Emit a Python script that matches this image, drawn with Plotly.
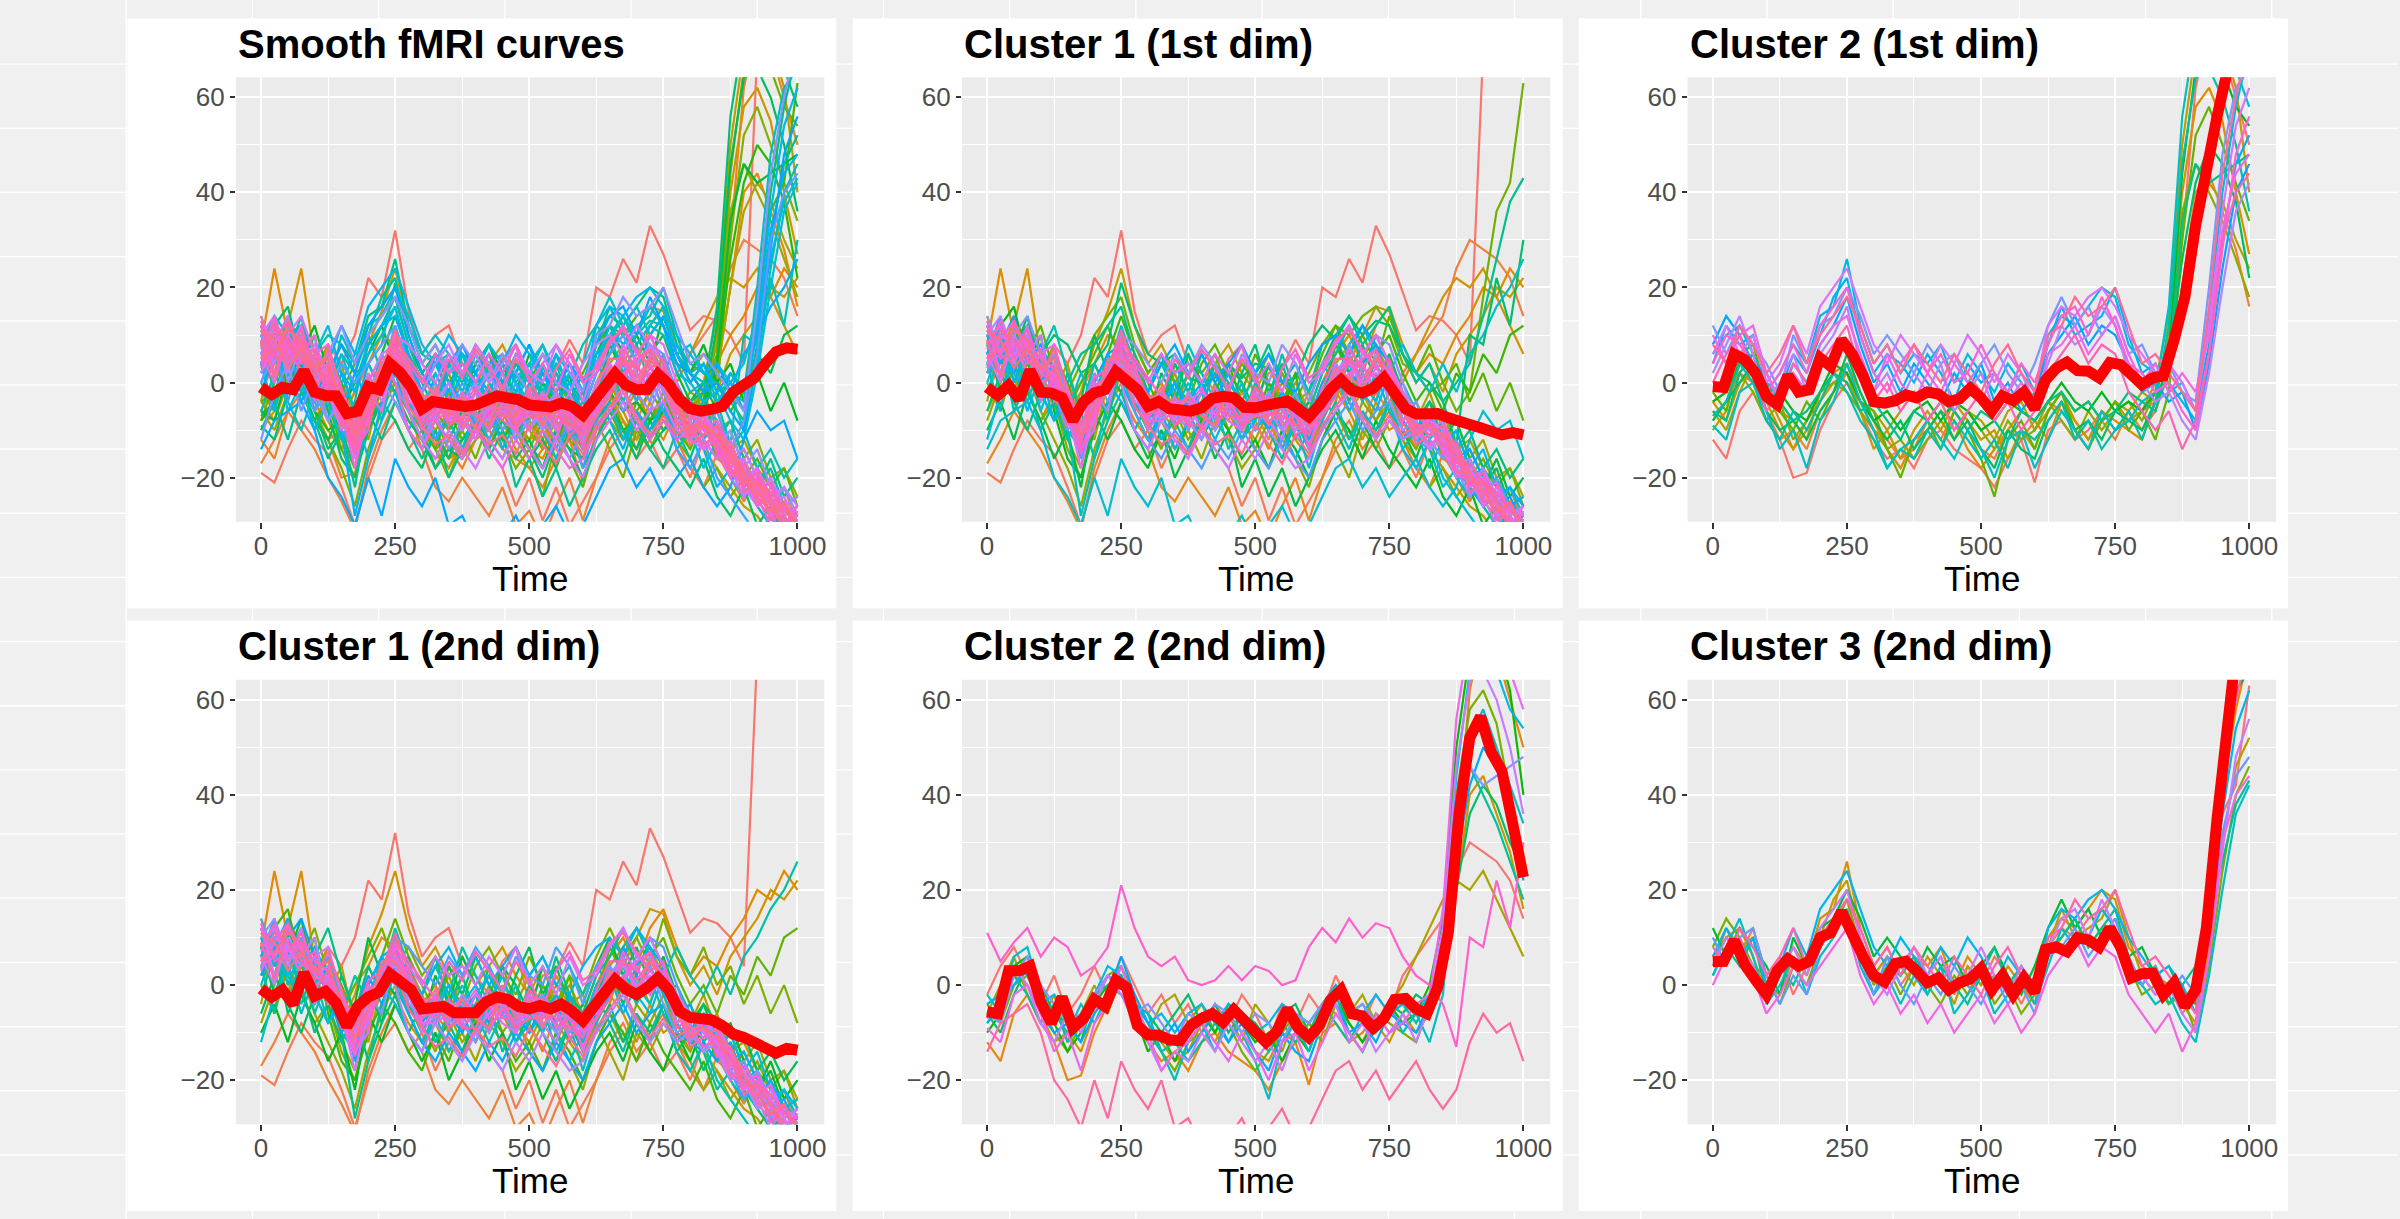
import math
import plotly.graph_objects as go

# ---------------- data ----------------
time = list(range(0, 1001, 25))        # sampling grid of the individual curves
time_mean = list(range(0, 1001, 20))   # sampling grid of the red mean curves

x_ticks = [0, 250, 500, 750, 1000]
x_minor = [125, 375, 625, 875]
y_ticks = [-20, 0, 20, 40, 60]
y_tick_text = ["\u221220", "0", "20", "40", "60"]
y_minor = [-10, 10, 30, 50]

panel_titles = ["Smooth fMRI curves", "Cluster 1 (1st dim)", "Cluster 2 (1st dim)",
                "Cluster 1 (2nd dim)", "Cluster 2 (2nd dim)", "Cluster 3 (2nd dim)"]

# curves: 1st dim cluster 1 / 2nd dim cluster 1 (bulk)
bulk_ids = [1, 2, 4, 6, 8, 11, 13, 15, 17, 19, 21, 24, 26, 28, 31, 33, 36, 39, 41, 43, 45, 48, 50, 52]
bulk_curves = [
    [5, 8, 3, 6, 2, 8, 4, 10, 22, 18, 32, 15, 6, 10, 12, 4, 2, -2, 5, 8, -4, 2, 3, 9, 4, 20, 18, 26, 21, 33, 27, 19, 11, 14, 13, 10, 4, 70, 90, 95, 100],
    [-19, -21, -14, -8, -12, -15, -22, -30, -20, -12, -8, -14, -10, -18, -12, -15, -10, -14, -18, -26, -20, -29, -22, -30, -25, -20, -14, -10, -16, -12, -18, -14, -20, -12, -16, -18, -22, -25, -28, -30, -32],
    [-17, -12, -6, -10, -14, -20, -25, -31, -18, -10, -4, -10, -14, -22, -25, -20, -24, -28, -22, -30, -27, -33, -26, -20, -29, -20, -12, -8, -14, -10, -6, -12, -18, -22, -15, -20, -25, -20, -28, -22, -30],
    [8, 24, 10, 6, 2, -4, 0, -6, 4, 10, 8, 2, -4, 0, -6, 2, 7, 3, -2, 5, 0, -6, 2, -3, -8, 0, 6, 10, 4, 12, 16, 8, 2, 6, 4, 10, 14, 20, 18, 24, 20],
    [6, 10, 12, 24, 5, 0, -5, -12, -4, 0, -2, -8, -12, -6, -10, -4, -8, -2, -6, -12, -8, -14, -6, -10, -4, -8, -2, -6, -12, -4, -10, -8, -14, -6, -12, -18, -14, -20, -24, -28, -26],
    [2, 6, -2, 4, 0, -4, -8, -2, 8, 15, 24, 12, 4, 8, 2, 6, 0, 4, 8, 2, -2, 4, -4, 0, -6, 2, 8, 4, 10, 16, 15, 6, 0, 4, -2, 6, 10, 14, 20, 18, 22],
    [12, 4, 14, 8, -4, 2, -12, -18, -2, 4, 6, 0, -6, -2, -10, -4, -8, 0, -4, -10, -6, -2, -8, -12, -16, -6, 4, 8, 2, -4, 6, -6, -10, -14, -18, -22, -26, -28, -32, -30, -34],
    [-4, 10, 2, 12, 6, -2, 4, -8, -12, 0, 10, 4, -2, -8, -2, -10, -4, 2, -2, -8, -12, -6, 0, -4, -10, -2, 2, -4, 4, 8, 2, -8, -4, -10, -6, -14, -12, -18, -22, -26, -24],
    [14, 6, -2, 10, 2, 8, -4, 0, 4, -2, 8, -4, -10, -4, 2, -6, -2, -8, 0, -4, 2, -8, -12, -4, -2, -10, -4, 6, 0, 4, -2, -4, -8, -2, -10, -8, -16, -12, -20, -18, -24],
    [-8, 0, 8, 2, -6, -12, -18, -26, -14, -6, 0, -6, -12, -8, -14, -10, -16, -8, -12, -18, -14, -8, -12, -6, -14, -8, -14, -20, -10, -14, -8, -12, -16, -22, -18, -24, -20, -26, -30, -28, -32],
    [0, -6, 4, -2, -8, -4, -14, -20, -8, 2, 6, -2, -8, -14, -6, -12, -8, -2, -10, -6, -14, -18, -10, -16, -22, -12, -6, -12, -4, -8, -2, -10, -14, -8, -16, -12, -20, -16, -22, -18, -26],
    [4, 10, 0, 6, 12, 2, -6, 0, 6, 12, 4, 8, 2, 6, 0, -4, 4, 8, 2, -2, 6, 0, -4, 2, -2, 6, 12, 6, 10, 4, 14, 6, 2, 8, 0, 4, -4, 2, -6, 0, -8],
    [10, 2, 12, 4, -2, 6, 0, -10, -4, 6, 14, 6, 0, -6, 4, -2, -8, -2, 4, -4, -8, 0, -6, 2, -12, -4, 8, 2, -4, 6, 10, 2, -4, 0, -6, 2, -2, 6, 2, 10, 12],
    [6, 12, 16, 4, 10, -6, -16, -20, -10, -4, -8, -14, -18, -10, -16, -8, -12, -6, -10, -16, -12, -18, -10, -14, -20, -12, -6, -10, -16, -8, -14, -18, -22, -16, -24, -28, -22, -30, -26, -32, -30],
    [-10, -4, -12, -2, -8, -16, -10, -22, -6, -12, -4, -10, -16, -10, -20, -14, -8, -16, -10, -22, -16, -24, -18, -26, -20, -14, -10, -16, -8, -14, -18, -10, -16, -8, -14, -10, -18, -22, -16, -24, -20],
    [8, -2, 6, 14, 0, 4, -8, -4, 10, 2, -2, 6, -8, 2, -4, 6, 0, -6, 4, 0, -6, 4, -2, -8, -4, 4, 10, 2, 8, 0, 6, -2, -8, -4, -12, -8, -16, -22, -18, -26, -30],
    [-6, 2, -4, -10, -2, -8, 2, -6, 0, -8, 4, -4, -10, -4, 4, -2, 6, 0, -6, 2, 8, -2, 4, -4, -10, -2, 4, -4, 2, 10, 4, -6, -10, -4, -8, -14, -10, -18, -14, -20, -16],
    [2, 8, -6, 0, -10, -4, -12, -6, -16, -8, -2, -10, -4, -12, -8, -14, -6, -10, -4, -12, -6, -10, -16, -8, -14, -10, -4, -12, -6, -12, -4, -14, -10, -18, -12, -20, -16, -24, -20, -28, -26],
    [12, 4, 8, -2, 6, 12, 2, -6, 4, -2, 8, 2, -2, 6, -4, 2, -6, 4, -2, -8, 0, -4, 6, -2, -6, 2, 6, 12, 4, 8, -2, 0, -6, -12, -8, -16, -20, -26, -30, -28, -34],
    [4, -6, 10, 2, -4, 0, -10, -28, -16, -4, 2, -4, -8, -2, -8, -2, -10, -4, -14, -8, -2, -10, -4, -12, -6, -2, -8, -14, -6, -10, -4, -12, -8, -14, -22, -18, -24, -20, -26, -30, -28],
    [-2, 6, 2, -4, 4, -2, -6, 2, -4, 6, 2, -6, -2, 4, -2, 8, 2, -4, 2, 8, 2, 6, 0, 4, -2, 4, 0, 8, 12, 6, 2, 8, 2, -2, 4, -2, 6, 10, 16, 20, 26],
    [0, 8, -4, 6, -6, 2, -10, -14, -6, 2, 12, 4, -4, -12, -6, 0, -6, -12, -6, 0, -10, -4, -14, -8, -18, -8, -2, 4, -4, 2, -6, -14, -18, -12, -20, -24, -28, -32, -28, -34, -30],
    [-12, -2, 4, -6, 2, -8, -2, -12, 0, 6, 0, -6, -12, -6, -14, -8, -2, -10, -4, -12, -8, -2, -10, -16, -10, -4, 2, -6, 0, -4, 4, -8, -12, -6, -14, -20, -24, -18, -26, -22, -28],
    [6, 14, 0, 8, -2, -8, -4, -16, -6, 0, -4, -10, -14, -6, 0, -6, -12, -4, 2, -6, -10, -6, -2, -8, -12, -6, -2, 6, -2, -6, 2, -4, -10, -6, -14, -10, -18, -14, -22, -26, -24],
]

# more bulk curves (last ids -> drawn on top, purple / pink hues)
bulk_late_ids = [53, 54, 55, 56, 57, 58, 59, 60, 61, 62, 63, 64, 65, 66, 67, 68, 69, 70, 71, 72]
bulk_late_curves = [
    [10, 4, 12, 6, 0, 4, -6, -10, -2, 4, 8, 2, -6, -2, -8, -4, 0, -6, -2, -8, -4, -10, -2, -6, -12, -4, 2, 6, 0, 4, -2, -8, -12, -8, -14, -18, -22, -26, -24, -30, -28],
    [6, 12, 2, 10, 4, -2, -8, -14, -4, 2, 6, -2, -8, -4, 0, -6, -2, 2, -4, -8, -2, -6, -10, -4, -8, 0, 4, -2, 4, 8, 0, -6, -10, -6, -12, -16, -20, -18, -24, -22, -26],
    [12, 8, 14, 4, 8, 2, -4, -12, 0, 6, 8, 2, -2, 4, 8, 2, 6, 0, 4, 8, 2, 6, 0, -2, 4, 8, 10, 6, 12, 8, 4, -2, -6, -10, -10, -16, -14, -20, -26, -24, -30],
    [2, 8, 6, 12, -2, 4, -2, -16, -8, 0, 4, -6, -12, -16, -10, -14, -18, -12, -16, -10, -14, -18, -12, -16, -20, -12, -8, -4, -10, -6, -4, -10, -12, -14, -10, -14, -18, -24, -20, -26, -32],
    [8, 2, 10, 14, 6, -2, -10, -6, 2, -4, 4, -2, -8, -2, -6, -10, -4, -8, -2, -6, -10, -4, -8, -2, -10, -6, -2, 8, 2, -2, 4, -6, -4, -12, -16, -12, -20, -22, -28, -32, -30],
    [14, 6, 4, 10, 2, 6, -4, -8, -6, 2, 10, 8, 4, 0, 6, 2, 8, 4, -2, 6, 2, 0, 8, 4, -4, 4, 8, 12, 6, 10, 8, 0, -8, -6, -12, -18, -24, -20, -26, -30, -34],
    [4, 10, 8, 2, 6, 0, -6, -12, -2, -6, 6, 2, -4, -8, -4, -8, -12, -4, -6, -10, -6, -2, -6, -10, -8, -4, 4, 0, 6, 4, -4, -10, -8, -14, -10, -18, -16, -22, -28, -26, -30],
    [10, 14, 6, 8, 0, 2, -8, -14, -8, 0, 6, -4, -6, -2, -8, -2, -6, -10, -4, -8, -2, -6, -10, -6, -10, -2, 2, 6, -2, 6, 2, -4, -12, -8, -10, -14, -22, -18, -24, -28, -26],
    [6, 0, 10, 6, 10, -4, -2, -10, -4, 4, 0, -10, -14, -8, -12, -16, -10, -14, -18, -12, -16, -10, -14, -18, -16, -10, -6, -2, -8, -12, -8, -12, -10, -14, -12, -18, -20, -26, -22, -28, -32],
    [8, 12, 4, 12, 2, 4, -6, -18, -6, 2, 4, -2, -10, -6, -4, -4, -10, -6, -2, -6, -4, -8, -12, -4, -6, -6, 2, 4, 0, 2, 0, -8, -6, -10, -14, -20, -18, -24, -30, -26, -28],
    [12, 2, 8, 4, 6, 8, -2, -10, 0, -2, 8, 4, 0, 6, 2, 4, 0, 6, 2, 8, 0, 4, -2, 6, 0, 2, 8, 12, 6, 10, 4, -2, -6, -10, -8, -14, -18, -22, -26, -30, -26],
    [4, 6, 12, 8, -4, 2, -4, -14, -10, 4, 2, 4, -8, -8, -6, -8, -2, -4, -8, -10, -2, -6, -8, -4, -14, -4, -2, 2, 4, -2, 2, -6, -10, -8, -12, -16, -22, -20, -24, -28, -34],
    [11, 6, 9, 2, 4, -1, -8, -12, -5, 3, 7, -1, -7, -3, -9, -5, -1, -7, -3, -9, -5, -9, -3, -7, -11, -5, 1, 5, -1, 3, 0, -6, -11, -9, -13, -19, -21, -24, -27, -29, -31],
    [3, 9, 13, 7, 2, 0, -3, -11, -7, 1, 5, 3, -3, -7, -3, -9, -5, -1, -5, -9, -3, -7, -5, -11, -9, -3, 3, 1, 5, 7, 1, -5, -9, -11, -9, -15, -19, -23, -21, -27, -29],
    [7, 13, 5, 9, 5, 3, -7, -15, -5, -1, 9, 1, -9, -5, -5, -3, -7, -9, -5, -5, -7, -3, -9, -7, -13, -7, -1, 7, 3, 1, 3, -3, -11, -7, -15, -13, -21, -19, -25, -31, -27],
    [13, 5, 7, 11, 3, 1, -9, -7, 1, 3, 9, 5, 1, -3, 5, 1, 7, 3, -1, 5, 1, -5, 3, 7, 1, 3, 9, 11, 7, 3, 5, -5, -9, -13, -11, -17, -17, -21, -29, -25, -33],
    [5, 11, 9, 5, 7, -3, -5, -13, -1, 1, 7, 1, -7, -5, -5, -9, -9, -3, -7, -7, -1, -5, -7, -9, -11, -1, 5, 5, 1, 5, 1, -9, -7, -9, -13, -15, -23, -21, -23, -27, -29],
    [9, 1, 13, 5, 1, 7, -1, -9, -3, 3, 11, 3, -3, -3, -9, -7, -5, -5, -3, -9, -7, -7, -5, -5, -9, -7, -3, 5, 3, 7, -1, -5, -13, -11, -9, -19, -19, -25, -25, -31, -29],
    [5, 7, 11, 9, -1, 3, -3, -11, -9, 1, 3, -5, -9, -13, -11, -15, -9, -13, -11, -15, -9, -13, -17, -11, -15, -9, -5, -1, -7, -11, -7, -11, -9, -9, -11, -15, -21, -21, -25, -29, -33],
    [11, 9, 3, 7, 3, 5, -5, -11, -5, 5, 5, -1, -5, -1, -7, -3, -7, -9, -1, -7, -3, -9, -3, -9, -7, -5, 3, 1, -1, 5, 1, -3, -11, -9, -11, -13, -19, -23, -27, -25, -31],
]

# curves: 1st dim cluster 1 / 2nd dim cluster 2
x_ids = [34, 46, 3, 9]
x_curves = [
    [11, 5, 9, 12, 6, 10, 8, 2, 4, 8, 21, 12, 6, 4, 6, 1, 0, 1, 4, 1, 4, 3, 0, 1, 8, 12, 9, 14, 10, 13, 12, 6, 2, 0, -4, -13, 10, 8, 22, 12, 30],
    [-14, -8, -6, -4, -10, -20, -24, -30, -20, -28, -16, -22, -26, -20, -30, -28, -34, -30, -32, -28, -34, -30, -26, -32, -30, -24, -18, -16, -22, -18, -24, -20, -16, -22, -26, -22, -12, -6, -10, -8, -16],
    [-2, 4, 8, 2, -4, 2, -6, -2, 4, -2, 6, 0, -6, -2, -8, -4, -10, -4, -8, -2, -6, -12, -4, -8, -2, -6, 2, -4, -8, -2, -6, 2, 6, 10, 14, 24, 30, 28, 26, 22, 14],
    [-6, 0, 6, -2, -8, -2, -12, -6, 0, -6, 2, -4, -10, -4, -2, -8, -4, -10, -6, -12, -4, -8, -14, -6, -10, -4, 0, -6, -2, -8, -4, 0, 6, 12, 18, 22, 20, 24, 18, 12, 6],
]

# curves: 1st dim cluster 1 / 2nd dim cluster 3
y_ids = [22, 38]
y_curves = [
    [4, 10, 6, 12, 2, 6, -2, 4, 10, 14, 18, 8, 2, 6, 0, 4, 2, 6, -2, 4, 0, 6, 2, -4, 2, 8, 12, 10, 14, 16, 12, 4, 2, -2, 0, -6, -2, 18, 36, 42, 63],
    [2, 8, 4, 10, -2, 4, 0, 6, 8, 12, 16, 6, -2, 4, 2, 6, -2, 4, 0, -4, 2, 8, 0, 4, -2, 8, 10, 14, 8, 12, 16, 6, 0, 4, -4, 0, 4, 14, 26, 38, 43],
]

# curves: 1st dim cluster 2 / 2nd dim cluster 2 (early risers)
low_ids = [5, 7, 10, 12, 14, 16, 18, 20, 23, 25, 27, 29]
low_curves = [
    [-12, -16, -6, -2, -8, -12, -20, -19, -10, -4, 0, -6, -12, -16, -14, -18, -12, -10, -14, -16, -18, -22, -16, -12, -21, -10, -8, -12, -10, -6, -10, -8, -6, -4, 4, 30, 62, 75, 70, 60, 50],
    [-8, -4, 2, 0, -6, -12, -10, -14, -6, -2, 2, -4, -10, -12, -16, -14, -8, -12, -6, -10, -14, -16, -10, -12, -8, -4, -6, -10, -14, -8, -12, -6, -10, -6, 2, 20, 40, 44, 36, 28, 16],
    [-4, -8, 0, 2, -4, -10, -14, -8, -4, 2, 4, -2, -8, -14, -18, -12, -10, -6, -8, -14, -18, -14, -10, -6, -8, -12, -4, -8, -12, -6, -8, -10, -12, -4, 10, 40, 58, 62, 55, 40, 27],
    [-10, -6, 4, 6, -2, -8, -14, -10, -4, 0, 2, -6, -14, -10, -16, -10, -6, -10, -4, -8, -12, -10, -16, -10, -14, -6, -2, -8, -12, -8, -4, -8, -6, 0, 14, 50, 70, 78, 72, 62, 40],
    [-6, -10, -2, 4, 0, -6, -8, -12, -2, 2, 0, -4, -6, -10, -6, -2, -8, -4, -10, -6, -8, -12, -6, -4, -10, -6, -2, -6, -4, -8, -4, -6, -2, -4, 2, 20, 36, 42, 38, 30, 24],
    [-4, -2, 2, -2, -8, -4, -12, -8, -2, 0, -2, -6, -10, -14, -12, -16, -12, -8, -12, -6, -10, -14, -8, -12, -10, -4, -8, -12, -6, -10, -6, -4, -8, -2, 8, 36, 46, 40, 34, 26, 18],
    [-2, -6, 6, 8, -2, -6, -10, -4, -8, -2, 4, -4, -6, -14, -20, -12, -8, -14, -6, -10, -16, -24, -12, -8, -14, -6, -2, -10, -14, -8, -4, -10, -6, -12, -2, 30, 52, 58, 50, 42, 34],
    [-4, -2, 4, 2, -4, -2, -6, -8, -2, 4, 2, -4, -8, -6, -10, -6, -4, -8, -4, -6, -10, -8, -4, -6, -8, -4, 0, -4, -6, -2, -6, -4, -6, -2, 6, 44, 66, 72, 66, 58, 54],
    [-8, -4, 0, 4, -6, -10, -8, -12, -6, -2, 6, -2, -8, -12, -8, -14, -10, -6, -12, -8, -14, -18, -10, -14, -16, -8, -4, -10, -8, -12, -6, -8, -10, -4, 4, 26, 42, 50, 46, 38, 22],
    [-6, -8, 2, 6, 0, -4, -8, -6, -2, 2, 0, -6, -4, -8, -12, -6, -8, -4, -6, -10, -6, -8, -12, -6, -8, -4, -2, -6, -4, -8, -6, -2, -4, -6, 4, 34, 46, 42, 44, 46, 48],
    [-7, -4, 4, 0, -8, -12, -6, -10, -4, 2, -2, -8, -12, -18, -14, -16, -10, -14, -8, -12, -16, -12, -18, -10, -12, -8, -4, -12, -8, -14, -10, -6, -12, -4, 12, 46, 64, 66, 60, 50, 36],
    [-9, -12, -2, 0, -6, -14, -10, -18, -8, -4, 4, -4, -10, -18, -14, -12, -8, -12, -16, -10, -14, -20, -12, -10, -18, -12, -6, -10, -14, -6, -10, -8, -4, -2, 16, 56, 74, 80, 76, 66, 58],
]

# curves: 1st dim cluster 2 / 2nd dim cluster 3 (late risers)
high_ids = [30, 32, 35, 37, 40, 42, 44, 47, 49, 51]
high_curves = [
    [6, 10, 12, 6, -2, 2, 8, 4, 14, 16, 26, 12, 4, 8, 2, 6, 4, 8, 0, 6, 2, -2, 4, 0, -4, 10, 14, 12, 16, 20, 18, 8, 4, 2, 0, -4, -8, 14, 40, 58, 70],
    [4, 12, 8, 10, 0, -2, 6, 2, 10, 18, 22, 10, 2, 6, 4, 0, 6, 2, -4, 4, 0, 2, -2, 4, -2, 8, 16, 10, 12, 14, 20, 10, 2, 4, -2, 0, -6, 8, 30, 46, 52],
    [8, 14, 10, 4, 2, -4, 4, 0, 8, 12, 18, 8, 0, 4, -2, 4, 0, -4, 2, -2, 4, -4, 0, -6, -2, 6, 10, 14, 8, 12, 10, 4, -2, 0, -4, -2, -10, 4, 24, 40, 46],
    [12, 6, 12, 8, 4, -2, 10, 4, 12, 14, 20, 14, 6, 10, 6, 2, 8, 4, 6, 0, 4, 8, 2, -2, 4, 12, 18, 12, 16, 10, 14, 6, 8, 2, 4, -2, -4, 20, 48, 62, 66],
    [2, 8, 14, 6, -4, 0, 6, -2, 6, 10, 16, 4, -2, 2, -4, 2, -2, 4, -6, -2, 2, -6, -2, 2, -4, 4, 12, 8, 10, 16, 12, 2, 0, -4, -2, -8, -12, 2, 20, 36, 42],
    [6, 12, 6, 10, 0, 4, 12, 6, 16, 20, 24, 16, 8, 4, 10, 6, 2, 8, 4, 10, 6, 0, 6, 2, -2, 12, 16, 14, 18, 20, 16, 10, 6, 2, 4, 0, -6, 12, 36, 54, 62],
    [10, 4, 10, 12, 2, -4, 2, -2, 8, 12, 14, 6, -2, 6, 0, -4, 2, -2, 4, 0, -4, 2, -4, 0, -6, 6, 8, 12, 6, 10, 14, 6, 0, 4, -2, 2, -2, 10, 32, 44, 48],
    [4, 10, 8, 4, -2, 2, 8, 2, 12, 16, 20, 10, 2, -2, 4, 8, 2, 6, 0, 2, 8, 2, -2, 4, 0, 8, 14, 16, 10, 18, 12, 4, 2, -2, 0, -6, -10, 6, 28, 48, 56],
    [0, 6, 10, 2, -6, -2, 4, 0, 4, 8, 12, 2, -4, 0, -6, -2, -8, -4, -10, -6, -2, -8, -4, -10, -6, 2, 6, 10, 4, 8, 6, -2, -6, -10, -6, -14, -8, 6, 30, 40, 44],
    [8, 4, 12, 8, 2, 6, 12, 4, 10, 14, 18, 12, 4, 8, 2, 8, 4, 0, 6, 2, -2, 4, 8, 2, -2, 10, 12, 18, 14, 16, 20, 12, 4, 6, 2, -2, -6, 16, 44, 60, 72],
]

# red mean curves (one per panel)
mean_all = [-1, -2.5, -1, -1.5, 2.5, -2, -2.7, -2.8, -6.5, -6, -0.8, -1.5, 4, 2, -1, -5.5, -4, -4.5, -5, -5,
            -4.7, -4, -2.8, -3.2, -3.6, -4.7, -5, -5.1, -4.3, -5, -6.8, -4, -1.5, 1.9, -0.5, -1.5, -1.4, 1.8, -0.3, -3.5,
            -5.5, -6, -5.6, -5, -2, -0.5, 1, 4, 6.5, 7.3, 7]
mean_c1_d1 = [-1, -2.7, -0.6, -3.5, 2.6, -2, -2.2, -3.2, -8, -4, -2.2, -1.5, 2.3, 0.5, -1.5, -5, -4, -5.5, -6, -6,
              -5.3, -3.3, -2.9, -3.2, -5.2, -5.3, -4.8, -4.5, -3.9, -5.5, -7.2, -4.7, -1.5, 0.6, -1.6, -2.2, -1.2, 1, -2, -5.5,
              -6.6, -6.8, -6.5, -7.4, -8.4, -8.8, -9.5, -10.5, -11, -10.5, -11]
mean_c2_d1 = [-0.8, -1, 6, 4.8, 2, -2.9, -4.6, 1.5, -2, -1.5, 5.2, 3.4, 9, 6, 1.5, -4, -4.3, -3.8, -2.6, -3.2,
              -2, -2.4, -4, -3.4, -1.2, -3.2, -6, -2.8, -3.8, -2, -5.5, 0.5, 3, 4.3, 2.5, 2.4, 1, 4.2, 3.8, 1.3,
              -0.4, 1, 1.4, 9, 18, 33, 46, 56, 66, 74, 80]
mean_c1_d2 = [-0.8, -2.5, -1, -4, 2.6, -2.3, -1.3, -3.8, -8.7, -4.5, -2.5, -1.5, 2.4, 0.8, -1, -5, -5, -4.5, -5.8, -6,
              -5.8, -3.5, -2.5, -3, -4.5, -5, -4.3, -5, -4, -5.5, -7.5, -4.6, -1.5, 1.2, -0.8, -2, -0.5, 1.5, -1, -5.5,
              -6.8, -7, -7.3, -8.5, -10.3, -11, -12, -13.5, -14.3, -13.3, -13.7]
mean_c2_d2 = [-5.6, -6, 3, 3, 4, -3.5, -8, -2.5, -9, -7, -3, -4.5, 1, -0.5, -8.5, -10.5, -10.5, -11.5, -11.7, -8.5,
              -7, -6, -7.8, -5.2, -7.5, -10, -12, -9.8, -5, -9, -11, -8.5, -3.2, -1, -6, -6.5, -9, -7, -3, -2.8,
              -5, -6, -0.5, 11, 36, 52, 56.5, 49, 45, 34, 22.7]
mean_c3_d2 = [4.9, 5, 9.4, 4.2, 1, -2, 3, 5.5, 4, 5, 10, 11, 15.5, 10.5, 6, 2, 0.7, 4.5, 5, 3,
              0.5, 1.5, -1, 0.5, 1.3, 3.5, -1, 2, -2, 1.5, -1.5, 7.5, 8, 7, 10, 9.5, 8, 12, 8, 1.5,
              2.4, 2.5, -2, 0.5, -4.5, -1, 12, 35, 58, 78, 95]

# ---------------- helpers ----------------
def hcl_hex(h, c=100.0, l=65.0):
    hr = math.radians(h)
    u, v = c * math.cos(hr), c * math.sin(hr)
    Xn, Yn, Zn = 95.047, 100.0, 108.883
    Y = Yn * (((l + 16) / 116) ** 3 if l > 8 else l / 903.3)
    den = Xn + 15 * Yn + 3 * Zn
    un, vn = 4 * Xn / den, 9 * Yn / den
    up, vp = u / (13 * l) + un, v / (13 * l) + vn
    X = Y * 9 * up / (4 * vp)
    Z = Y * (12 - 3 * up - 20 * vp) / (4 * vp)
    X, Y, Z = X / 100, Y / 100, Z / 100
    r = 3.2404542 * X - 1.5371385 * Y - 0.4985314 * Z
    g = -0.9692660 * X + 1.8760108 * Y + 0.0415560 * Z
    b = 0.0556434 * X - 0.2040259 * Y + 1.0572252 * Z

    def gam(x):
        x = max(0.0, min(1.0, x))
        return 12.92 * x if x <= 0.0031308 else 1.055 * x ** (1 / 2.4) - 0.055
    return "#%02x%02x%02x" % tuple(int(round(gam(cc) * 255)) for cc in (r, g, b))


def hue_pal(n):
    return [hcl_hex(15 + 360.0 * i / n) for i in range(n)]


groups = {
    "bulk": (bulk_ids, bulk_curves),
    "bulk_late": (bulk_late_ids, bulk_late_curves),
    "x": (x_ids, x_curves),
    "y": (y_ids, y_curves),
    "low": (low_ids, low_curves),
    "high": (high_ids, high_curves),
}
panel_groups = [
    ["bulk", "bulk_late", "x", "y", "low", "high"],
    ["bulk", "bulk_late", "x", "y"],
    ["low", "high"],
    ["bulk", "bulk_late"],
    ["low", "x"],
    ["high", "y"],
]
panel_means = [mean_all, mean_c1_d1, mean_c2_d1, mean_c1_d2, mean_c2_d2, mean_c3_d2]

# ---------------- geometry (pixels of the 2400 x 1219 page) ----------------
W, H = 2400, 1219
col_px = [(236.0, 825.0), (962.7, 1551.5), (1689.0, 2278.0)]
row_px = [(77.3, 521.7), (679.8, 1124.2)]
card_col = [(127.5, 837.0), (853.5, 1564.0), (1580.0, 2290.0)]
card_row = [(18.3, 608.3), (620.6, 1211.0)]
title_cy = [43.8, 646.1]
xtitle_cy = [578.0, 1180.3]

FONT = "Liberation Sans, Arial, Helvetica, sans-serif"

fig = go.Figure()
layout = dict(
    width=W, height=H, margin=dict(l=0, r=0, t=0, b=0),
    paper_bgcolor="#f0f0f0", plot_bgcolor="rgba(0,0,0,0)",
    showlegend=False, font=dict(family=FONT),
)
shapes = []
annotations = []

# page background grid
for k in range(1, 19):
    shapes.append(dict(type="line", xref="paper", yref="paper", x0=k / 19, x1=k / 19, y0=0, y1=1,
                       line=dict(color="white", width=1.3), layer="below"))
    shapes.append(dict(type="line", xref="paper", yref="paper", x0=0, x1=1, y0=k / 19, y1=k / 19,
                       line=dict(color="white", width=1.3), layer="below"))
# white cards
for r in range(2):
    for c in range(3):
        shapes.append(dict(type="rect", xref="paper", yref="paper",
                           x0=card_col[c][0] / W, x1=card_col[c][1] / W,
                           y0=1 - card_row[r][1] / H, y1=1 - card_row[r][0] / H,
                           fillcolor="white", line=dict(width=0), layer="below"))

for p in range(6):
    r, c = divmod(p, 3)
    ax = "" if p == 0 else str(p + 1)
    xa, ya = "x" + ax, "y" + ax
    xdom = [col_px[c][0] / W, col_px[c][1] / W]
    ydom = [1 - row_px[r][1] / H, 1 - row_px[r][0] / H]
    layout["xaxis" + ax] = dict(
        domain=xdom, anchor=ya, range=[-47, 1050], tickmode="array", tickvals=x_ticks,
        ticks="outside", ticklen=6, tickwidth=2, tickcolor="#333333", ticklabelstandoff=-5,
        tickfont=dict(size=26, color="#4d4d4d", family=FONT),
        showgrid=True, gridcolor="white", gridwidth=2.2, zeroline=False, showline=False,
        minor=dict(tickmode="array", tickvals=x_minor, showgrid=True, gridcolor="white", gridwidth=1.1, ticks=""),
    )
    layout["yaxis" + ax] = dict(
        domain=ydom, anchor=xa, range=[-29.25, 64.2], tickmode="array", tickvals=y_ticks, ticktext=y_tick_text,
        ticks="outside", ticklen=5, tickwidth=2, tickcolor="#333333",
        tickfont=dict(size=26, color="#4d4d4d", family=FONT),
        showgrid=True, gridcolor="white", gridwidth=2.2, zeroline=False, showline=False,
        minor=dict(tickmode="array", tickvals=y_minor, showgrid=True, gridcolor="white", gridwidth=1.1, ticks=""),
    )
    # grey panel background (drawn in the subplot, under the grid)
    shapes.append(dict(type="rect", xref=xa + " domain", yref=ya + " domain", x0=0, x1=1, y0=0, y1=1,
                       fillcolor="#ebebeb", line=dict(width=0), layer="below"))
    # titles
    annotations.append(dict(text=panel_titles[p], xref="paper", yref="paper",
                            x=col_px[c][0] / W, y=1 - title_cy[r] / H, xanchor="left", yanchor="middle",
                            showarrow=False, font=dict(size=40, color="black", family=FONT, weight="bold")))
    annotations.append(dict(text="Time", xref="paper", yref="paper",
                            x=(col_px[c][0] + col_px[c][1]) / 2 / W, y=1 - xtitle_cy[r] / H,
                            xanchor="center", yanchor="middle", showarrow=False,
                            font=dict(size=35, color="black", family=FONT)))

    # curves of this panel, coloured by id order like a ggplot discrete hue scale
    members = []
    for g in panel_groups[p]:
        ids, curves = groups[g]
        members.extend(zip(ids, curves))
    members.sort(key=lambda m: m[0])
    cols = hue_pal(len(members))
    for (cid, vals), col in zip(members, cols):
        fig.add_trace(go.Scatter(x=time, y=vals, mode="lines", xaxis=xa, yaxis=ya,
                                 line=dict(color=col, width=2.2), hoverinfo="skip"))
    fig.add_trace(go.Scatter(x=time_mean, y=panel_means[p], mode="lines", xaxis=xa, yaxis=ya,
                             line=dict(color="#ff0000", width=11), hoverinfo="skip"))

layout["shapes"] = shapes
layout["annotations"] = annotations
fig.update_layout(**layout)
fig.write_html("out.html")
